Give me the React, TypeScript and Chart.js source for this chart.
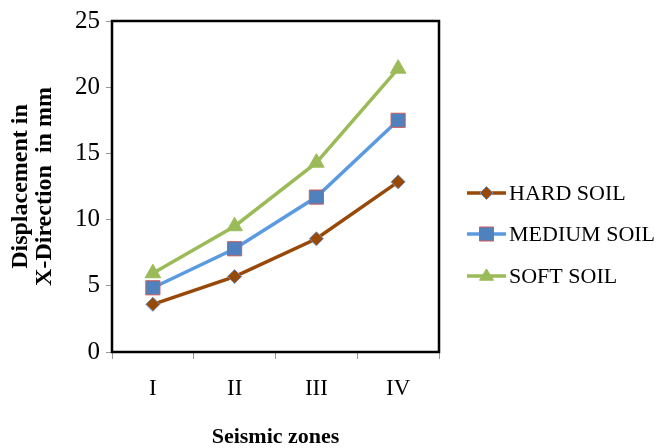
import React, { useEffect, useRef } from "react";
import { Chart, registerables } from "chart.js";

Chart.register(...registerables);

const categories = ["I", "II", "III", "IV"];
const hardSoil = [3.6, 5.7, 8.55, 12.85];
const mediumSoil = [4.85, 7.8, 11.7, 17.5];
const softSoil = [5.95, 9.5, 14.3, 21.4];
const seriesNames = ["HARD SOIL", "MEDIUM SOIL", "SOFT SOIL"];
const yTitle = ["Displacement in", "X-Direction  in mm"];
const xTitle = "Seismic zones";

const FONT = "'Liberation Serif', 'Times New Roman', serif";

const boxPlugin = {
  id: "boxPlugin",
  beforeDatasetsDraw(chart: any) {
    const { ctx, chartArea: a } = chart;
    ctx.save();
    ctx.strokeStyle = "#000";
    ctx.lineWidth = 2.5;
    ctx.strokeRect(a.left, a.top, a.right - a.left, a.bottom - a.top);
    ctx.restore();
  },
};

const legendPlugin = {
  id: "customLegend",
  afterDraw(chart: any) {
    const { ctx } = chart;
    const ys = [193, 234, 276];
    const x0 = 467;
    const x1 = 506;
    chart.data.datasets.forEach((ds: any, i: number) => {
      const y = ys[i];
      ctx.save();
      ctx.strokeStyle = ds.borderColor;
      ctx.lineWidth = 3.5;
      ctx.beginPath();
      ctx.moveTo(x0, y);
      ctx.lineTo(x1, y);
      ctx.stroke();
      const cx = (x0 + x1) / 2;
      ctx.fillStyle = ds.pointBackgroundColor;
      ctx.strokeStyle = ds.pointBorderColor;
      ctx.lineWidth = 1;
      ctx.beginPath();
      if (ds.pointStyle === "rectRot") {
        const r = 6.5;
        ctx.moveTo(cx, y - r);
        ctx.lineTo(cx + r, y);
        ctx.lineTo(cx, y + r);
        ctx.lineTo(cx - r, y);
        ctx.closePath();
      } else if (ds.pointStyle === "rect") {
        const h = 7;
        ctx.rect(cx - h, y - h, 2 * h, 2 * h);
      } else {
        const r = 7;
        ctx.moveTo(cx, y - r);
        ctx.lineTo(cx + r, y + r * 0.6);
        ctx.lineTo(cx - r, y + r * 0.6);
        ctx.closePath();
      }
      ctx.fill();
      ctx.stroke();
      ctx.fillStyle = "#000";
      ctx.font = `22px ${FONT}`;
      ctx.textBaseline = "middle";
      ctx.textAlign = "left";
      ctx.fillText(ds.label, 509, y + 1);
      ctx.restore();
    });
  },
};

export default function App() {
  const ref = useRef<HTMLCanvasElement>(null);
  useEffect(() => {
    if (!ref.current) return;
    const chart = new Chart(ref.current, {
      type: "line",
      data: {
        labels: categories,
        datasets: [
          {
            label: seriesNames[0],
            data: hardSoil,
            borderColor: "#984807",
            borderWidth: 3.5,
            pointStyle: "rectRot",
            pointRadius: 7,
            pointBackgroundColor: "#984807",
            pointBorderColor: "#6f8fc0",
            pointBorderWidth: 1,
          },
          {
            label: seriesNames[1],
            data: mediumSoil,
            borderColor: "#5a9ae0",
            borderWidth: 3.5,
            pointStyle: "rect",
            pointRadius: 10,
            pointBackgroundColor: "#4f81bd",
            pointBorderColor: "#d05a5a",
            pointBorderWidth: 1,
          },
          {
            label: seriesNames[2],
            data: softSoil,
            borderColor: "#9bbb59",
            borderWidth: 3.5,
            pointStyle: "triangle",
            pointRadius: 9,
            pointBackgroundColor: "#9bbb59",
            pointBorderColor: "#9bbb59",
            pointBorderWidth: 1,
          },
        ],
      },
      options: {
        animation: false,
        responsive: false,
        maintainAspectRatio: false,
        layout: { padding: { top: 17, right: 218, left: 0, bottom: 0 } },
        plugins: { legend: { display: false }, tooltip: { enabled: false } },
        scales: {
          x: {
            offset: true,
            border: { display: false },
            grid: {
              offset: true,
              drawOnChartArea: false,
              drawTicks: true,
              tickLength: 7,
              color: "#999",
            },
            ticks: { color: "#000", font: { family: FONT, size: 23 }, padding: 16 },
            title: {
              display: true,
              text: xTitle,
              color: "#000",
              font: { family: FONT, size: 22, weight: "bold" },
              padding: { top: 0, bottom: -3 },
            },
            afterFit: (s: any) => {
              s.height = 96;
            },
          },
          y: {
            min: 0,
            max: 25,
            border: { display: false },
            grid: { drawOnChartArea: false, tickLength: 6, color: "#999" },
            ticks: { stepSize: 5, color: "#000", font: { family: FONT, size: 25 }, padding: 6 },
            title: {
              display: true,
              text: yTitle,
              color: "#000",
              font: { family: FONT, size: 24, weight: "bold", lineHeight: 1.0 },
              padding: { top: 9, bottom: 0 },
            },
            afterFit: (s: any) => {
              s.width = 112;
            },
          },
        },
      },
      plugins: [boxPlugin, legendPlugin],
    });
    return () => chart.destroy();
  }, []);
  return (
    <div style={{ position: "fixed", left: 0, top: 0, width: 657, height: 448, background: "#fff" }}>
      <canvas ref={ref} width={657} height={448} style={{ width: 657, height: 448 }} />
    </div>
  );
}
